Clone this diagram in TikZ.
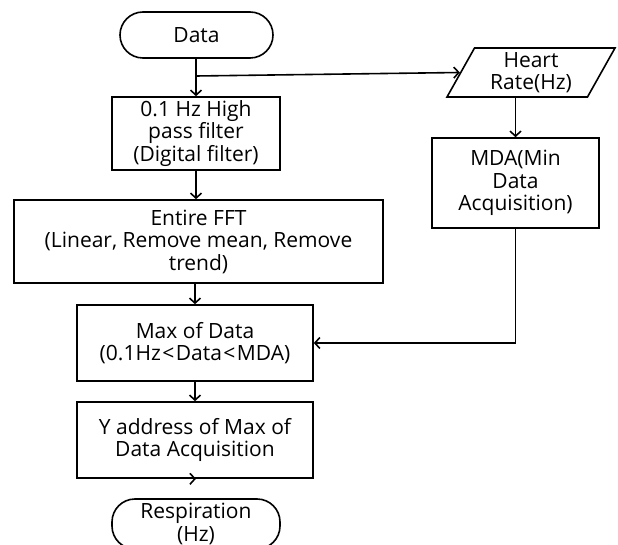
\documentclass[tikz,border=0pt]{standalone}
\usepackage{fontspec}
\setmainfont{Open Sans}
\usetikzlibrary{arrows.meta,shapes.geometric}
\begin{document}
\begin{tikzpicture}[x=1pt,y=-1pt,
  every node/.style={font=\fontsize{21}{22.5}\selectfont, align=center, inner sep=0pt, text=black},
  procbox/.style={draw, line width=1.6pt, rectangle},
  termbox/.style={draw, line width=1.6pt, rectangle, rounded corners=23pt},
  iobox/.style={draw, line width=1.6pt, trapezium, trapezium left angle=56, trapezium right angle=124, trapezium stretches body},
  flow/.style={line width=1.6pt, -{Straight Barb[length=5pt,width=11pt]}}]
\useasboundingbox (0,0) rectangle (618,545);
\clip (0,0) rectangle (618,545);
\node[termbox, minimum width=153pt, minimum height=46pt] (data) at (196.5,35) {Data};
\node[procbox, minimum width=168pt, minimum height=73pt] (hpf) at (196,133.5) {0.1 Hz High\\pass filter\\(Digital filter)};
\node[iobox, minimum width=168pt, minimum height=49pt] (hr) at (531,72.5) {Heart\\Rate(Hz)};
\node[procbox, minimum width=167pt, minimum height=90pt] (mda) at (515.5,183) {MDA(Min\\Data\\Acquisition)};
\node[procbox, minimum width=369pt, minimum height=83pt] (fft) at (198.5,241.5) {Entire FFT\\(Linear, Remove mean, Remove\\trend)};
\node[procbox, minimum width=236pt, minimum height=76pt] (max) at (195,343) {Max of Data\\(0.1Hz\kern1.5pt<\kern1.5pt Data\kern1.5pt<\kern1.5pt MDA)};
\node[procbox, minimum width=236pt, minimum height=76pt] (yad) at (195,440) {Y address of Max of\\Data Acquisition};
\node[termbox, minimum width=168pt, minimum height=50pt] (resp) at (196,524) {Respiration\\(Hz)};
\coordinate (br) at (196,76);
\draw[flow] (data.south -| hpf.north) -- (hpf.north);
\draw[flow] (br) -- (hr.west);
\draw[flow] (hr.south -| mda.north) -- (mda.north);
\draw[flow] (hpf.south) -- (hpf.south |- fft.north);
\draw[flow] (fft.south -| max.north) -- (max.north);
\draw[flow] (max.south) -- (yad.north);
\draw[flow] (yad.south) -- (yad.south -| resp.north);
\draw[flow] (mda.south) |- (max.east);
\end{tikzpicture}
\end{document}
